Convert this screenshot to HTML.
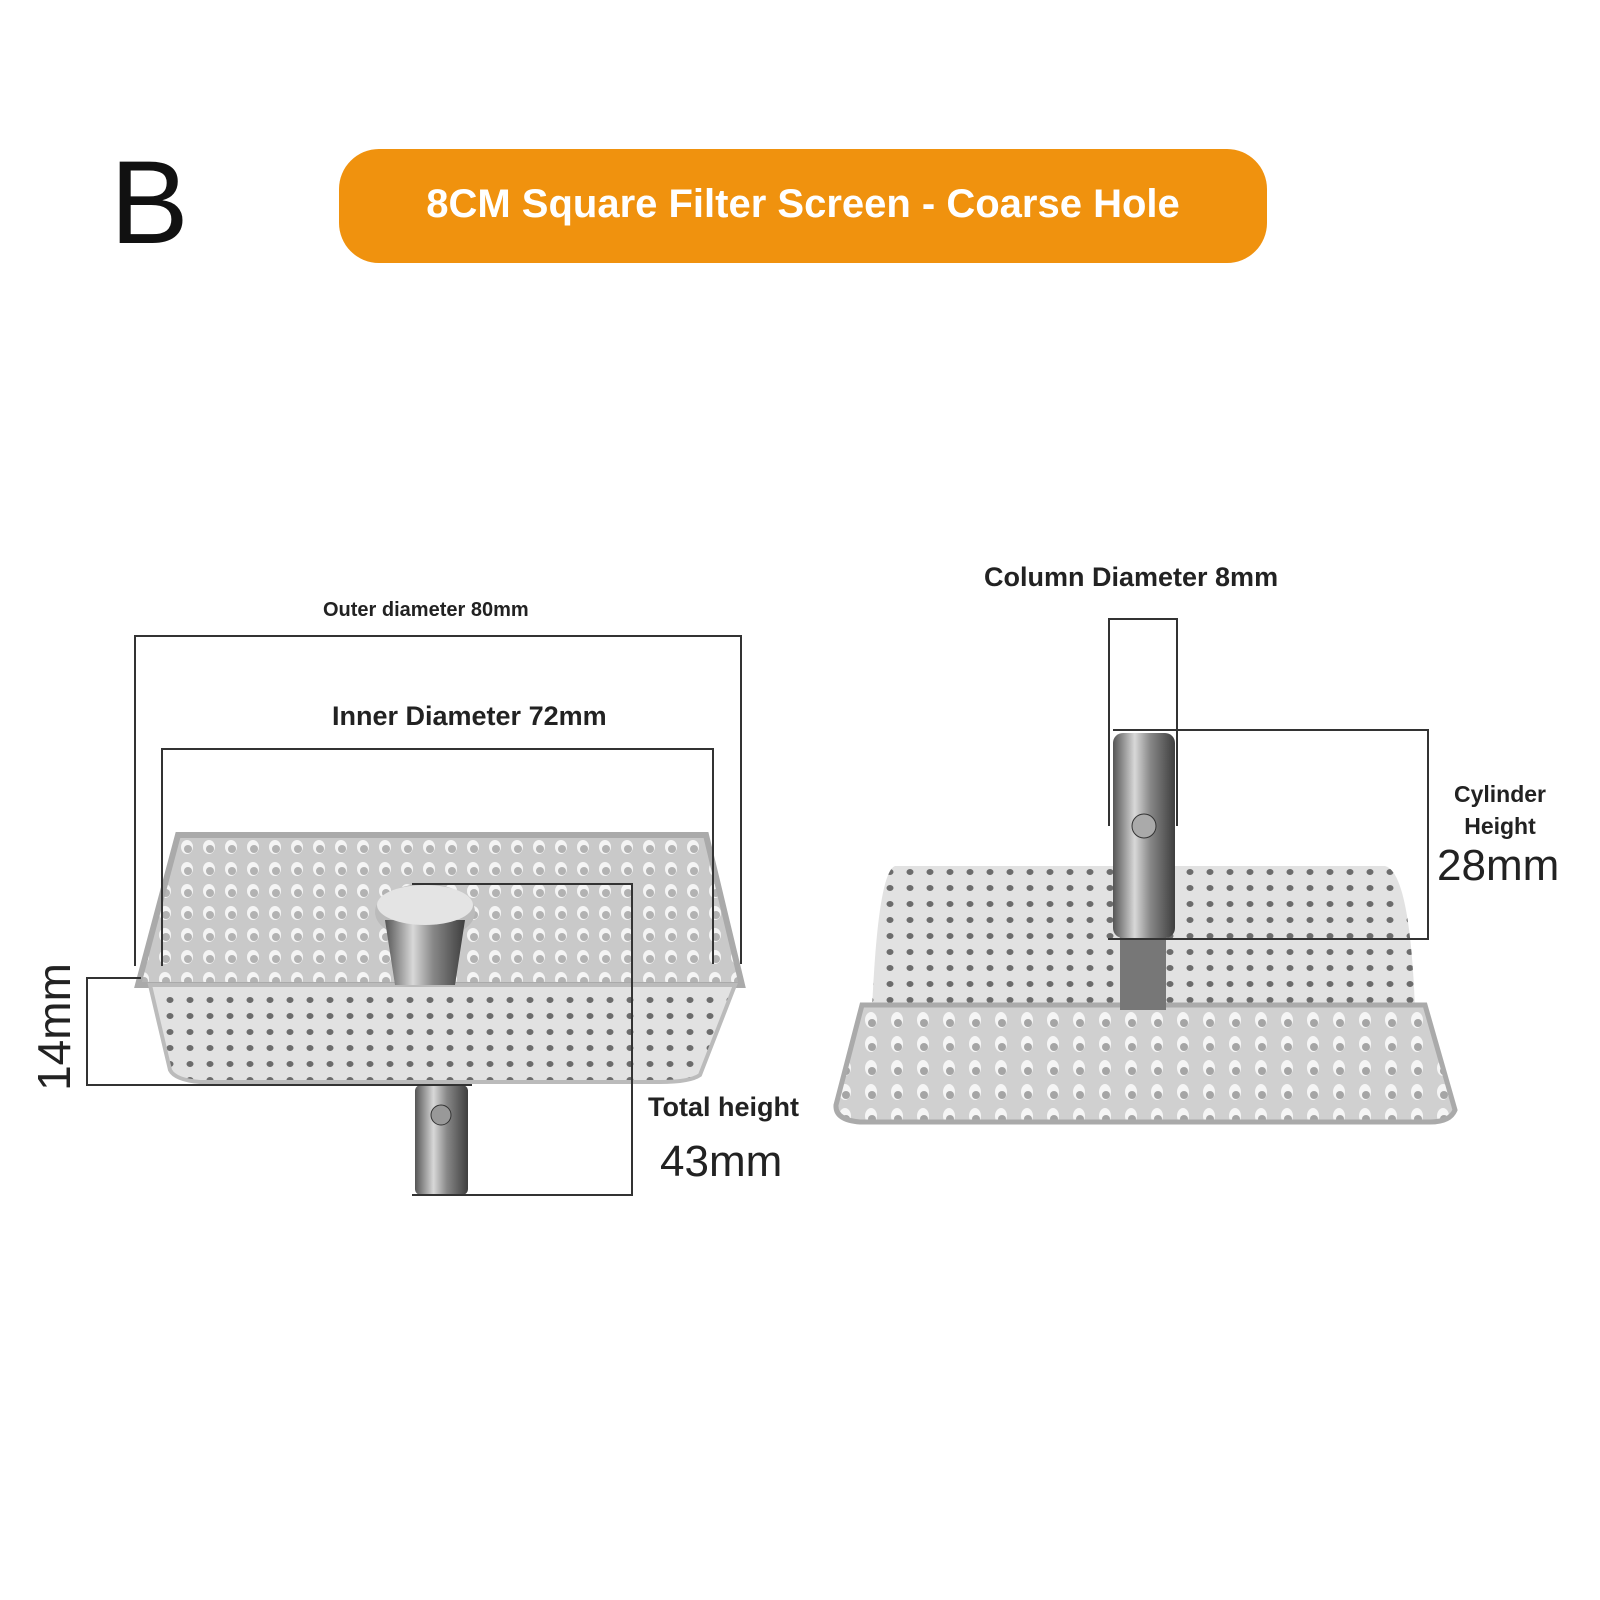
<!DOCTYPE html>
<html><head><meta charset="utf-8"><style>
html,body{margin:0;padding:0;background:#fff;}
body{width:1600px;height:1600px;position:relative;overflow:hidden;font-family:"Liberation Sans",sans-serif;}
.t{position:absolute;white-space:nowrap;color:#222;}
</style></head><body>
<svg width="1600" height="1600" style="position:absolute;left:0;top:0">
<defs>
<pattern id="holes" width="22" height="22" patternUnits="userSpaceOnUse">
<rect width="22" height="22" fill="#c9c9c9"/><ellipse cx="11" cy="11" rx="6" ry="7" fill="#f4f4f4"/><ellipse cx="12" cy="13" rx="4" ry="4" fill="#6f6f6f" opacity=".5"/></pattern>
<pattern id="holes2" width="20" height="16" patternUnits="userSpaceOnUse">
<rect width="20" height="16" fill="#e2e2e2"/><ellipse cx="10" cy="8" rx="3.5" ry="3" fill="#6c6c6c"/></pattern>
<pattern id="holes3" width="26" height="24" patternUnits="userSpaceOnUse">
<rect width="26" height="24" fill="#d0d0d0"/><ellipse cx="13" cy="12" rx="6" ry="8" fill="#f5f5f5"/><ellipse cx="14" cy="15" rx="4" ry="4" fill="#555" opacity=".5"/></pattern>
<linearGradient id="cyl" x1="0" x2="1"><stop offset="0" stop-color="#555"/><stop offset=".35" stop-color="#d8d8d8"/><stop offset=".6" stop-color="#888"/><stop offset="1" stop-color="#3e3e3e"/></linearGradient>
</defs>
<rect x="339" y="149" width="928" height="114" rx="40" fill="#f0920e"/>
<path d="M178 835 L706 835 L742 985 L138 985 Z" fill="url(#holes)" stroke="#aaa" stroke-width="6"/>
<path d="M150 985 L735 985 L700 1075 Q690 1082 660 1082 L200 1082 Q175 1080 170 1070 Z" fill="url(#holes2)" stroke="#bbb" stroke-width="4"/>
<ellipse cx="425" cy="912" rx="50" ry="28" fill="#bbb"/>
<path d="M385 920 L465 920 L455 985 L395 985 Z" fill="url(#cyl)"/>
<ellipse cx="425" cy="905" rx="48" ry="20" fill="#e4e4e4"/>
<rect x="415" y="1085" width="53" height="110" rx="6" fill="url(#cyl)"/>
<circle cx="441" cy="1115" r="10" fill="#999" stroke="#333"/>
<path d="M895 866 L1385 866 Q1410 872 1415 1010 L872 1010 Q878 872 895 866 Z" fill="url(#holes2)"/>
<path d="M862 1005 L1425 1005 L1455 1110 Q1450 1122 1430 1122 L860 1122 Q835 1120 836 1105 Z" fill="url(#holes3)" stroke="#aaa" stroke-width="5"/>
<rect x="1120" y="935" width="46" height="75" fill="#777"/>
<rect x="1113" y="733" width="62" height="205" rx="10" fill="url(#cyl)"/>
<circle cx="1144" cy="826" r="12" fill="#aaa" stroke="#333"/>
<g stroke="#333" stroke-width="2" fill="none">
<polyline points="135,966 135,636 741,636 741,964"/>
<polyline points="162,966 162,749 713,749 713,964"/>
<polyline points="141,978 87,978 87,1085 472,1085"/>
<polyline points="412,884 632,884 632,1195 412,1195"/>
<polyline points="1109,826 1109,619 1177,619 1177,826"/>
<polyline points="1113,730 1428,730 1428,939 1108,939"/>
</g>
</svg>
<div class="t" style="left:110px;top:135px;font-size:118px;color:#111;">B</div>
<div class="t" style="left:339px;top:182px;width:928px;text-align:center;color:#fff;font-weight:bold;font-size:40px;">8CM Square Filter Screen - Coarse Hole</div>
<div class="t" style="left:323px;top:599px;font-size:20px;font-weight:bold;">Outer diameter 80mm</div>
<div class="t" style="left:332px;top:701px;font-size:27px;font-weight:bold;">Inner Diameter 72mm</div>
<div class="t" style="left:-10px;top:1000px;font-size:46px;transform:rotate(-90deg);">14mm</div>
<div class="t" style="left:648px;top:1092px;font-size:27px;font-weight:bold;">Total height</div>
<div class="t" style="left:660px;top:1137px;font-size:44px;">43mm</div>
<div class="t" style="left:984px;top:562px;font-size:27px;font-weight:bold;">Column Diameter 8mm</div>
<div class="t" style="left:1440px;top:778px;width:120px;text-align:center;font-size:23px;font-weight:bold;line-height:32px;">Cylinder<br>Height</div>
<div class="t" style="left:1437px;top:841px;font-size:44px;">28mm</div>
</body></html>
